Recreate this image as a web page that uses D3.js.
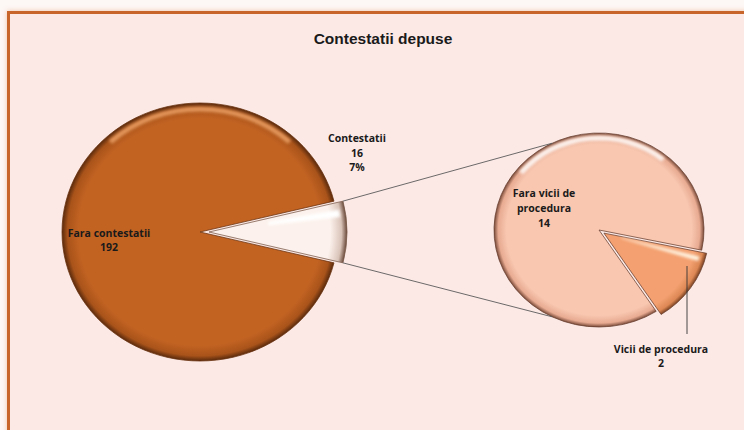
<!DOCTYPE html>
<html>
<head>
<meta charset="utf-8">
<script src="https://cdn.jsdelivr.net/npm/d3@7"></script>
<style>
  html, body { margin: 0; padding: 0; background: #fdf7f5; }
  svg { display: block; }
</style>
</head>
<body>
<script>
var title = "Contestatii depuse";
var mainLabels = ["Fara contestatii", "Contestatii"];
var mainValues = [192, 16];
var subLabels = ["Fara vicii de procedura", "Vicii de procedura"];
var subValues = [14, 2];

var width = 744, height = 430;

var svg = d3.select("body").append("svg")
    .attr("width", width)
    .attr("height", height);

var defs = svg.append("defs");

// soft glow round the frame
var glow = defs.append("filter").attr("id", "glow")
    .attr("x", "-5%").attr("y", "-5%").attr("width", "110%").attr("height", "110%");
glow.append("feGaussianBlur").attr("in", "SourceAlpha").attr("stdDeviation", 2.5).attr("result", "b");
glow.append("feFlood").attr("flood-color", "#e8a070").attr("flood-opacity", 0.6);
glow.append("feComposite").attr("in2", "b").attr("operator", "in").attr("result", "s");
var gm = glow.append("feMerge");
gm.append("feMergeNode").attr("in", "s");
gm.append("feMergeNode").attr("in", "SourceGraphic");

var blur = defs.append("filter").attr("id", "soft")
    .attr("x", "-20%").attr("y", "-20%").attr("width", "140%").attr("height", "140%");
blur.append("feGaussianBlur").attr("stdDeviation", 1.6);

// frame
svg.append("rect")
    .attr("x", 8.5).attr("y", 12.5)
    .attr("width", 760).attr("height", 440)
    .attr("fill", "#fce9e6")
    .attr("stroke", "#c8652a")
    .attr("stroke-width", 3)
    .attr("filter", "url(#glow)");

svg.append("text")
    .attr("x", 383).attr("y", 44)
    .attr("text-anchor", "middle")
    .style("font-family", "'Liberation Sans', Arial, sans-serif")
    .style("font-size", "15.5px")
    .style("font-weight", "bold")
    .attr("fill", "#1a1a1a")
    .text(title);

// radial bevel gradient
function bevel(id, r, base, mid, edge) {
    var g = defs.append("radialGradient").attr("id", id)
        .attr("gradientUnits", "userSpaceOnUse")
        .attr("cx", 0).attr("cy", 0).attr("r", r);
    g.append("stop").attr("offset", "0%").attr("stop-color", base);
    g.append("stop").attr("offset", "88%").attr("stop-color", base);
    g.append("stop").attr("offset", "96%").attr("stop-color", mid);
    g.append("stop").attr("offset", "100%").attr("stop-color", edge);
}

// ---- main pie ----
var main = { cx: 200, cy: 232, r: 138, k: 129 / 138, explode: 9 };
var mainTotal = d3.sum(mainValues);
var mainSpan = 2 * Math.PI * mainValues[1] / mainTotal;

bevel("gMain0", main.r, "#c26322", "#a9531a", "#5a2a0c");
bevel("gMain1", main.r, "#fcf1ec", "#d9c3b8", "#6b4a3a");

var mainPie = d3.pie().sort(null).value(function (d) { return d; })
    .startAngle(Math.PI / 2 + mainSpan / 2)
    .endAngle(Math.PI / 2 + mainSpan / 2 + 2 * Math.PI);

var mainArcs = mainPie(mainValues);
var mainArc = d3.arc().innerRadius(0).outerRadius(main.r);
var hiArc = d3.arc().innerRadius(main.r - 9).outerRadius(main.r - 4);

function offset(d, dist) {
    var a = (d.startAngle + d.endAngle) / 2;
    return [dist * Math.sin(a), -dist * Math.cos(a)];
}

var gMain = svg.append("g")
    .attr("transform", "translate(" + main.cx + "," + main.cy + ") scale(1," + main.k + ")");

gMain.selectAll("g.slice")
    .data(mainArcs)
    .enter().append("g")
    .attr("class", "slice")
    .attr("transform", function (d, i) {
        var o = i === 1 ? offset(d, main.explode) : [0, 0];
        return "translate(" + o[0] + "," + o[1] + ")";
    })
    .each(function (d, i) {
        var g = d3.select(this);
        g.append("path")
            .attr("d", mainArc(d))
            .attr("fill", "url(#gMain" + i + ")")
            .attr("stroke", i === 0 ? "#6a3210" : "#7a5a4a")
            .attr("stroke-width", 0.8);
        // highlight along the top rim
        if (i === 0) {
            g.append("path")
                .attr("d", hiArc({ startAngle: 2 * Math.PI - 0.75, endAngle: 2 * Math.PI + 0.75 }))
                .attr("fill", "#f0a66a")
                .attr("opacity", 0.8)
                .attr("filter", "url(#soft)");
        } else {
            g.append("path")
                .attr("d", d3.arc().innerRadius(60).outerRadius(main.r - 6)({
                    startAngle: d.startAngle + 0.06, endAngle: d.startAngle + 0.12 }))
                .attr("fill", "#ffffff")
                .attr("filter", "url(#soft)");
        }
    });

// ---- secondary pie ----
var sub = { cx: 599, cy: 230, r: 105, k: 97 / 105, explode: 6 };
var subTotal = d3.sum(subValues);
var subSpan = 2 * Math.PI * subValues[1] / subTotal;
var subMid = 124.5 * Math.PI / 180;
var subStart = subMid + subSpan / 2;

bevel("gSub0", sub.r, "#f9c7b0", "#e8ab92", "#7a4a38");
bevel("gSub1", sub.r, "#f4a070", "#dc8754", "#7a4020");

var subPie = d3.pie().sort(null).value(function (d) { return d; })
    .startAngle(subStart)
    .endAngle(subStart + 2 * Math.PI);
var subArcs = subPie(subValues);
var subArc = d3.arc().innerRadius(0).outerRadius(sub.r);

var gSub = svg.append("g")
    .attr("transform", "translate(" + sub.cx + "," + sub.cy + ") scale(1," + sub.k + ")");

gSub.selectAll("g.slice")
    .data(subArcs)
    .enter().append("g")
    .attr("class", "slice")
    .attr("transform", function (d, i) {
        var o = i === 1 ? offset(d, sub.explode) : [0, 0];
        return "translate(" + o[0] + "," + o[1] + ")";
    })
    .each(function (d, i) {
        var g = d3.select(this);
        g.append("path")
            .attr("d", subArc(d))
            .attr("fill", "url(#gSub" + i + ")")
            .attr("stroke", "#6a4030")
            .attr("stroke-width", 0.8);
        if (i === 0) {
            g.append("path")
                .attr("d", d3.arc().innerRadius(sub.r - 8).outerRadius(sub.r - 3)({
                    startAngle: 2 * Math.PI - 0.9, endAngle: 2 * Math.PI + 0.7 }))
                .attr("fill", "#ffffff")
                .attr("opacity", 0.85)
                .attr("filter", "url(#soft)");
        } else {
            g.append("path")
                .attr("d", d3.arc().innerRadius(18).outerRadius(sub.r - 6)({
                    startAngle: d.startAngle + 0.05, endAngle: d.startAngle + 0.1 }))
                .attr("fill", "#fff3e0")
                .attr("filter", "url(#soft)");
        }
    });

// ---- connector lines ----
function mainPoint(angle) {
    var o = offset(mainArcs[1], main.explode);
    return [main.cx + o[0] + main.r * Math.sin(angle),
            main.cy + (o[1] - main.r * Math.cos(angle)) * main.k];
}
function subPoint(angle) {
    return [sub.cx + sub.r * Math.sin(angle),
            sub.cy - sub.r * Math.cos(angle) * sub.k];
}
var joinAngle = 63.5 * Math.PI / 180;
var connectors = [
    [mainPoint(mainArcs[1].startAngle), subPoint(1.5 * Math.PI + joinAngle)],
    [mainPoint(mainArcs[1].endAngle), subPoint(1.5 * Math.PI - joinAngle)]
];
svg.selectAll("line.conn")
    .data(connectors)
    .enter().append("line")
    .attr("class", "conn")
    .attr("x1", function (d) { return d[0][0]; })
    .attr("y1", function (d) { return d[0][1]; })
    .attr("x2", function (d) { return d[1][0]; })
    .attr("y2", function (d) { return d[1][1]; })
    .attr("stroke", "#5a5a5a")
    .attr("stroke-width", 0.9);

// leader line for the small slice
svg.append("line")
    .attr("x1", 687).attr("y1", 266)
    .attr("x2", 687).attr("y2", 334)
    .attr("stroke", "#333")
    .attr("stroke-width", 0.9);

// ---- labels ----
function label(x, y, lines, step) {
    var t = svg.append("text")
        .attr("text-anchor", "middle")
        .style("font-family", "'Open Sans', 'Noto Sans', sans-serif")
        .style("font-size", "10.5px")
        .style("font-weight", "bold")
        .attr("fill", "#1a1a1a");
    lines.forEach(function (s, i) {
        t.append("tspan").attr("x", x).attr("y", y + i * step).text(s);
    });
}
var pct = Math.floor(100 * mainValues[1] / mainTotal) + "%";
var labelArc = d3.arc().innerRadius(91).outerRadius(91);
var c0 = labelArc.centroid(mainArcs[0]);

label(main.cx + c0[0], main.cy + c0[1] * main.k + 5, [mainLabels[0], String(mainValues[0])], 13.5);
label(357, 142, [mainLabels[1], String(mainValues[1]), pct], 14.5);
label(544, 197, ["Fara vicii de", "procedura", String(subValues[0])], 15);
label(661, 353, [subLabels[1], String(subValues[1])], 13.5);
</script>
</body>
</html>
